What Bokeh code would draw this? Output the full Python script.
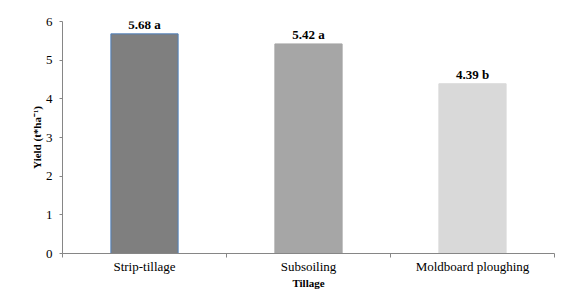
from bokeh.plotting import figure
from bokeh.models import ColumnDataSource, FixedTicker, Range1d, LabelSet
from bokeh.embed import file_html
from bokeh.resources import INLINE

categories = ["Strip-tillage", "Subsoiling", "Moldboard ploughing"]
yields = [5.68, 5.42, 4.39]
letters = ["a", "a", "b"]
bar_colors = ["#7f7f7f", "#a6a6a6", "#d9d9d9"]
bar_lines = ["#4f81bd", "#a6a6a6", "#d9d9d9"]
y_ticks = [0, 1, 2, 3, 4, 5, 6]
x_title = "Tillage"
y_title = "Yield (t*ha⁻¹)"

xs = [i + 0.5 for i in range(len(categories))]
labels = [f"{v:.2f} {l}" for v, l in zip(yields, letters)]
src = ColumnDataSource(dict(x=xs, top=yields, color=bar_colors, line=bar_lines, label=labels))

FONT = "Liberation Serif"

p = figure(width=555, height=291, output_backend="svg", toolbar_location=None,
           x_range=Range1d(0, len(categories)), y_range=Range1d(0, 6),
           min_border_left=62, min_border_top=21, min_border_bottom=30, min_border_right=1)
p.outline_line_color = None
p.xgrid.visible = False
p.ygrid.visible = False

p.vbar(x="x", top="top", width=0.41, bottom=0, fill_color="color", line_color="line",
       line_width=1, source=src)

lab = LabelSet(x="x", y="top", text="label", source=src, text_align="center",
               text_baseline="bottom", y_offset=2, text_font=FONT, text_font_size="13px",
               text_font_style="bold", text_color="#000000")
p.add_layout(lab)

xa = p.xaxis[0]
xa.ticker = FixedTicker(ticks=xs, minor_ticks=list(range(len(categories) + 1)))
xa.major_label_overrides = {x: c for x, c in zip(xs, categories)}
xa.major_tick_line_color = None
xa.major_tick_out = 0
xa.major_tick_in = 0
xa.minor_tick_out = 4
xa.minor_tick_in = 0
xa.minor_tick_line_color = "#868686"
xa.axis_line_color = "#868686"
xa.major_label_standoff = 1
xa.major_label_text_font = FONT
xa.major_label_text_font_size = "13px"
xa.major_label_text_color = "#000000"
xa.axis_label = x_title
xa.axis_label_text_font = FONT
xa.axis_label_text_font_size = "11px"
xa.axis_label_text_font_style = "bold"
xa.axis_label_text_color = "#000000"
xa.axis_label_standoff = 0

ya = p.yaxis[0]
ya.ticker = FixedTicker(ticks=y_ticks, minor_ticks=[])
ya.axis_line_color = "#868686"
ya.major_tick_line_color = "#868686"
ya.major_tick_out = 3
ya.major_tick_in = 0
ya.minor_tick_line_color = None
ya.major_label_standoff = 7
ya.major_label_text_font = FONT
ya.major_label_text_font_size = "13px"
ya.major_label_text_color = "#000000"
ya.axis_label = y_title
ya.axis_label_text_font = FONT
ya.axis_label_text_font_size = "11px"
ya.axis_label_text_font_style = "bold"
ya.axis_label_text_color = "#000000"
ya.axis_label_standoff = 0

open("out.html", "w").write(file_html(p, INLINE))
